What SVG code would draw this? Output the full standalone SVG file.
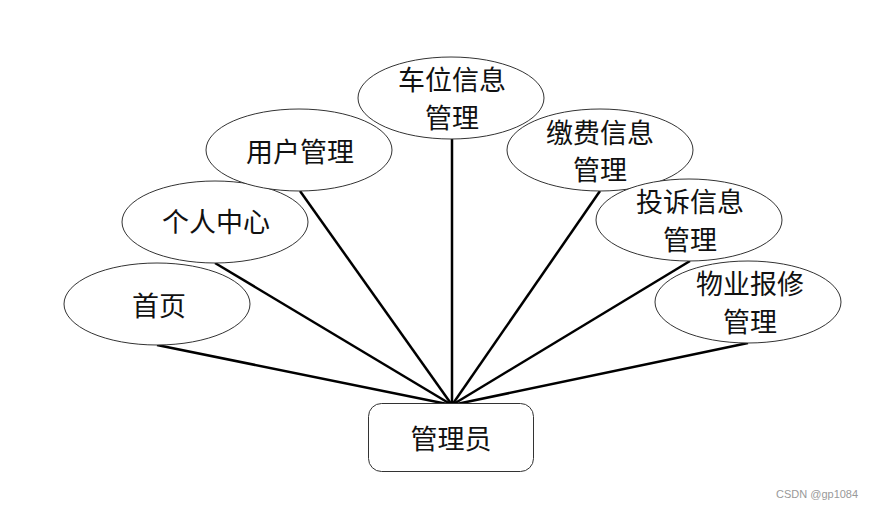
<svg xmlns="http://www.w3.org/2000/svg" width="875" height="511" viewBox="0 0 875 511">
<style>
.n{fill:#fff;stroke:#333;stroke-width:1}
.t{font-family:"Noto Sans CJK SC","Noto Sans",sans-serif;font-size:27px;fill:#111;text-anchor:middle;dominant-baseline:central}
.c line{stroke:#000;stroke-width:2.5}
.wm{font-family:"Liberation Sans",sans-serif;font-size:11px;fill:#999}
</style>
<rect width="875" height="511" fill="#fff"/>
<g class="c">
<line x1="157" y1="345" x2="452" y2="405"/>
<line x1="215" y1="263" x2="452" y2="405"/>
<line x1="300" y1="191" x2="452" y2="405"/>
<line x1="452" y1="139" x2="452" y2="405"/>
<line x1="600" y1="191" x2="452" y2="405"/>
<line x1="690" y1="261" x2="452" y2="405"/>
<line x1="748" y1="343" x2="452" y2="405"/>
</g>
<g id="shouye"><ellipse class="n" cx="157" cy="304" rx="93" ry="41"/><text class="t" x="159" y="304">首页</text></g>
<g id="geren"><ellipse class="n" cx="215" cy="222" rx="93" ry="41"/><text class="t" x="216" y="220">个人中心</text></g>
<g id="yonghu"><ellipse class="n" cx="299" cy="150" rx="93" ry="41"/><text class="t" x="300" y="150">用户管理</text></g>
<g id="chewei"><ellipse class="n" cx="451" cy="98" rx="93" ry="41"/><text class="t" x="452" y="78">车位信息</text><text class="t" x="452" y="116">管理</text></g>
<g id="jiaofei"><ellipse class="n" cx="600" cy="150" rx="93" ry="41"/><text class="t" x="600" y="131">缴费信息</text><text class="t" x="600" y="168">管理</text></g>
<g id="tousu"><ellipse class="n" cx="689" cy="220" rx="93" ry="41"/><text class="t" x="690" y="200">投诉信息</text><text class="t" x="690" y="238">管理</text></g>
<g id="wuye"><ellipse class="n" cx="748" cy="302" rx="93" ry="41"/><text class="t" x="750" y="282">物业报修</text><text class="t" x="750" y="320">管理</text></g>
<g id="admin"><rect class="n" x="368.5" y="403.5" width="165" height="68" rx="13"/><text class="t" x="451" y="437">管理员</text></g>
<text class="wm" x="776" y="498">CSDN @gp1084</text>
</svg>
